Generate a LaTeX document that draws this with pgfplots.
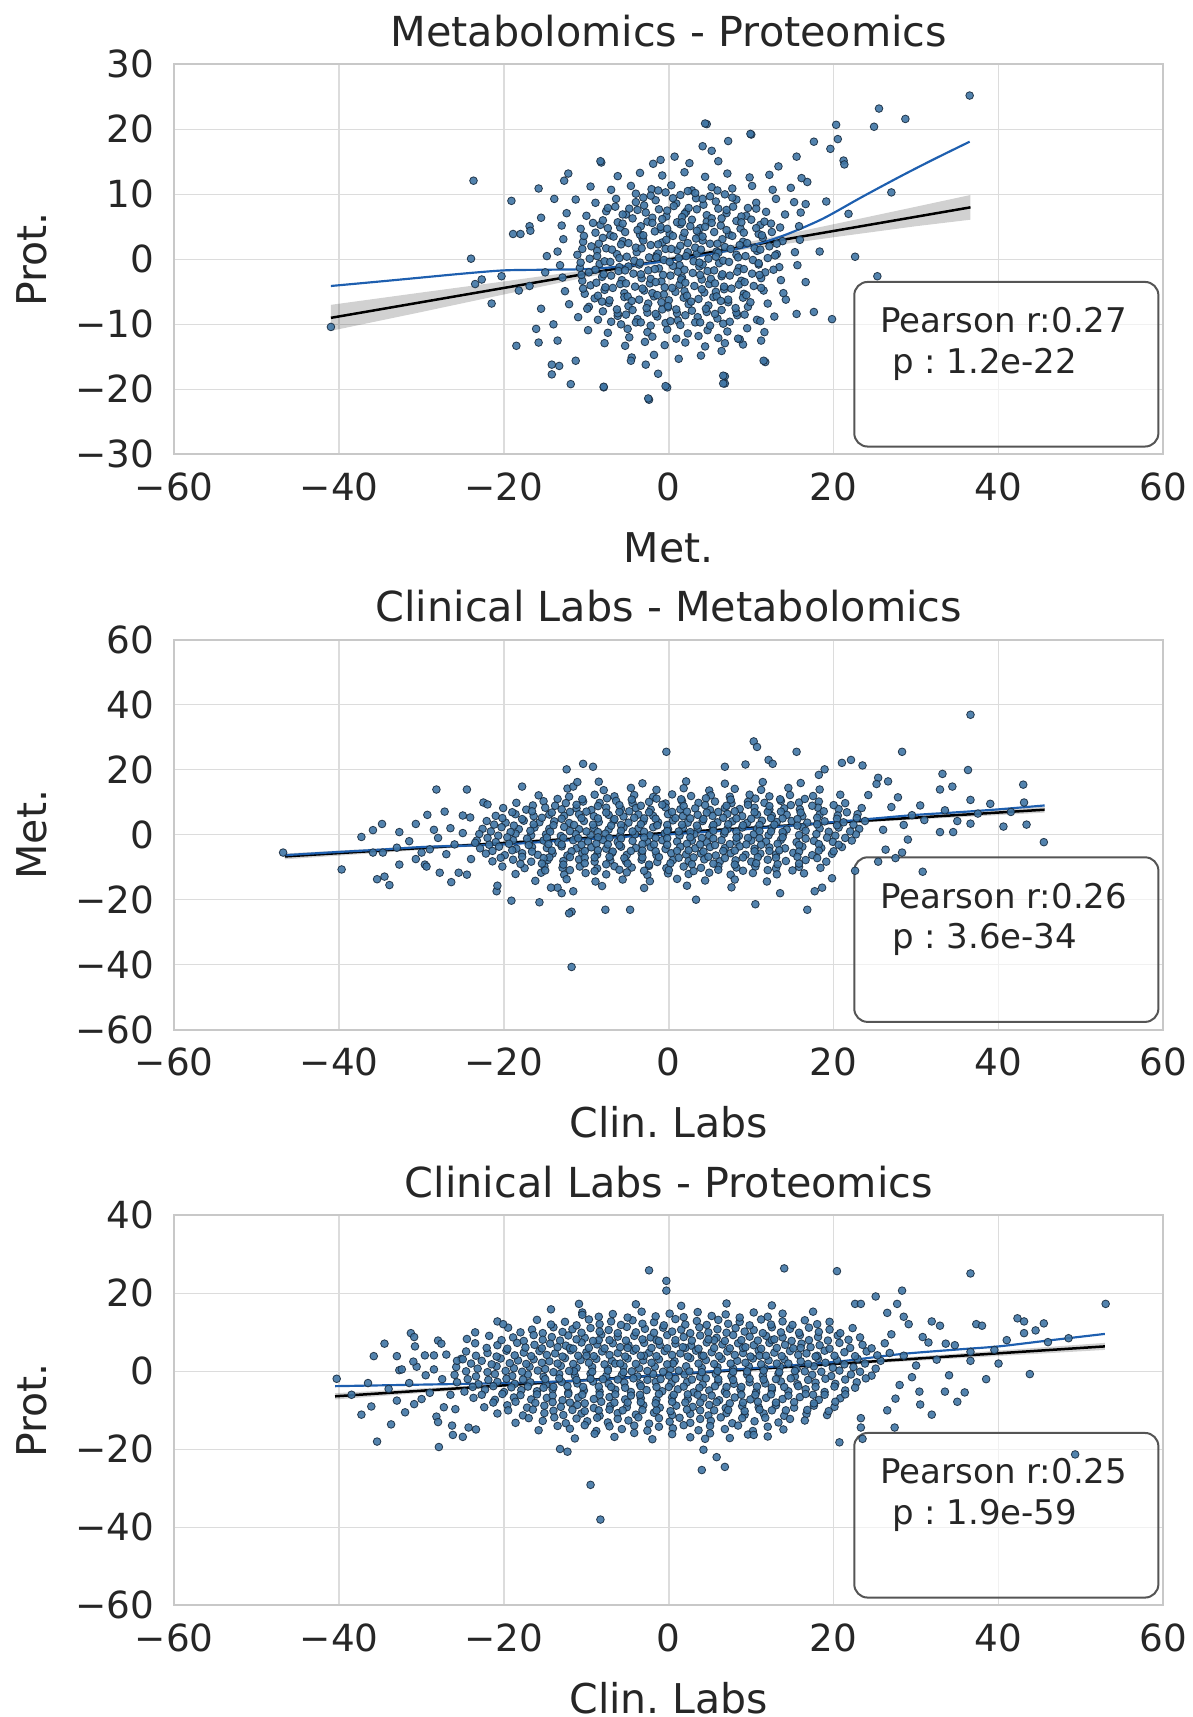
\documentclass[border=0pt]{standalone}
\usepackage{pgfplots}
\pgfplotsset{compat=1.18}
\usepackage{fontspec}
\setmainfont{DejaVu Sans}
\definecolor{txt}{HTML}{262626}
\definecolor{gridc}{HTML}{DCDCDC}
\definecolor{framec}{HTML}{C8C8C8}
\definecolor{ptfill}{RGB}{64,118,165}
\definecolor{ptedge}{RGB}{25,45,65}
\definecolor{lowess}{RGB}{30,95,175}
\definecolor{boxc}{HTML}{555555}
\pgfplotsset{
  panel/.style={
    scale only axis, width=296.7pt, height=117pt,
    xmin=-60, xmax=60, xtick={-60,-40,...,60},
    xticklabels={−60,−40,−20,0,20,40,60},
    grid=major, major grid style={draw=gridc, line width=0.45pt},
    axis line style={draw=framec, line width=0.6pt},
    major tick length=0pt,
    tick style={draw=none},
    xticklabel style={font=\fontsize{11.2}{13}\selectfont, text=txt, anchor=base, inner sep=0pt, yshift=-13.8pt},
    yticklabel style={font=\fontsize{11.2}{13}\selectfont, text=txt, anchor=east, inner sep=0pt, xshift=-5.8pt},
    xlabel style={font=\fontsize{12.3}{14}\selectfont, text=txt, at={(axis description cs:0.5,0)}, anchor=base, inner sep=0pt, yshift=-32.4pt},
    ylabel style={font=\fontsize{12.3}{14}\selectfont, text=txt, at={(axis description cs:-0.1443,0.5)}, anchor=center, inner sep=0pt},
    title style={font=\fontsize{12.4}{14}\selectfont, text=txt, at={(axis description cs:0.5,1)}, anchor=base, inner sep=0pt, yshift=-0.5pt},
  },
  pts/.style={only marks, mark=*, mark size=1.15pt, opacity=0.9,
    mark options={fill=ptfill, draw=ptedge, line width=0.25pt}},
  ci/.style={draw=none, fill=black, fill opacity=0.18},
  reg/.style={black, line width=0.75pt, no marks},
  low/.style={lowess, line width=0.65pt, no marks, smooth, tension=0.5},
}
\newcommand{\statbox}[2]{%
  \draw[rounded corners=4pt, draw=boxc, line width=0.6pt, fill=white, fill opacity=0.6]
    (rel axis cs:0.6875,0.02) rectangle (rel axis cs:0.995,0.442);
  \node[anchor=base west, inner sep=0pt, text=txt, font=\fontsize{10.2}{12}\selectfont] at (rel axis cs:0.7135,0.312) {Pearson r:#1};
  \node[anchor=base west, inner sep=0pt, text=txt, font=\fontsize{10.2}{12}\selectfont] at (rel axis cs:0.725,0.208) {p : #2};
}
\begin{document}
\frenchspacing
\begin{tikzpicture}
\path[use as bounding box] (-52.3pt,19.3pt) rectangle (305.6pt,-495.8pt);
% ---------------- Panel 1 ----------------
\begin{axis}[panel, at={(0,0)}, anchor=north west,
  ymin=-30, ymax=30, ytick={-30,-20,...,30}, yticklabels={−30,−20,−10,0,10,20,30},
  title={Metabolomics - Proteomics}, xlabel={Met.}, ylabel={Prot.}]
\addplot[pts] coordinates {
(-1.0,15.3)(2.5,14.8)(6.0,15.1)
(-6.2,12.8)(-3.5,13.3)(-0.8,12.9)(1.9,13.4)(4.4,12.7)(7.1,13.2)(9.8,12.6)(12.2,13.0)
(-9.5,11.2)(-7.0,10.7)(-4.6,11.3)(-2.1,10.8)(0.3,11.4)(2.8,10.6)(5.2,11.1)(7.7,10.9)(10.1,11.3)(12.6,10.7)(14.8,11.0)
(-11.3,9.2)(-8.9,8.7)(-6.4,9.3)(-4.0,8.8)(-1.6,9.1)(0.9,8.6)(3.3,9.4)(5.7,8.9)(8.2,9.2)(10.6,8.7)(13.0,9.3)(15.2,8.8)
(-12.4,7.1)(-10.0,6.7)(-7.6,7.4)(-5.2,6.9)(-2.8,7.2)(-0.3,6.6)(2.1,7.3)(4.6,6.8)(7.0,7.1)(9.4,6.7)(11.8,7.3)(14.1,6.9)(16.0,7.2)
(-13.0,5.2)(-10.7,4.7)(-8.3,5.3)(-5.9,4.9)(-3.4,5.1)(-1.0,4.6)(1.4,5.4)(3.8,4.8)(6.3,5.2)(8.7,4.7)(11.1,5.3)(13.5,4.9)(15.8,5.1)
(-12.8,3.1)(-10.4,2.7)(-8.0,3.3)(-5.6,2.8)(-3.2,3.2)(-0.8,2.6)(1.7,3.4)(4.1,2.9)(6.5,3.1)(9.0,2.7)(11.4,3.3)(13.8,2.8)(15.9,3.0)
(-13.5,1.2)(-11.1,0.7)(-8.7,1.3)(-6.3,0.8)(-3.9,1.1)(-1.5,0.6)(1.0,1.4)(3.4,0.9)(5.8,1.2)(8.2,0.7)(10.7,1.3)(13.1,0.8)(15.3,1.1)
(-13.2,-0.9)(-10.8,-1.3)(-8.4,-0.7)(-6.0,-1.2)(-3.6,-0.8)(-1.2,-1.4)(1.3,-0.9)(3.7,-1.1)(6.1,-0.6)(8.5,-1.3)(10.9,-0.8)(13.4,-1.2)(15.6,-0.9)
(-12.9,-2.8)(-10.5,-3.3)(-8.1,-2.7)(-5.7,-3.2)(-3.3,-2.9)(-0.9,-3.4)(1.6,-2.8)(4.0,-3.1)(6.4,-2.6)(8.8,-3.3)(11.2,-2.9)(13.6,-3.2)
(-12.6,-4.9)(-10.2,-5.3)(-7.8,-4.7)(-5.4,-5.2)(-3.0,-4.8)(-0.6,-5.4)(1.9,-4.9)(4.3,-5.1)(6.7,-4.6)(9.1,-5.3)(11.5,-4.8)(13.9,-5.2)
(-12.1,-6.9)(-9.7,-7.3)(-7.3,-6.7)(-4.9,-7.2)(-2.5,-6.8)(-0.1,-7.4)(2.4,-6.9)(4.8,-7.1)(7.2,-6.6)(9.6,-7.3)(12.0,-6.8)
(-11.0,-8.9)(-8.6,-9.3)(-6.2,-8.7)(-3.8,-9.2)(-1.4,-8.8)(1.1,-9.4)(3.5,-8.9)(5.9,-9.1)(8.3,-8.6)(10.7,-9.3)(12.8,-8.8)
(-9.8,-10.9)(-7.4,-11.3)(-5.0,-10.7)(-2.6,-11.2)(-0.2,-10.8)(2.3,-11.4)(4.7,-10.9)(7.1,-11.1)(9.5,-10.6)(11.6,-11.2)
(-7.8,-12.9)(-5.3,-13.3)(-2.9,-12.7)(-0.5,-13.2)(2.0,-12.8)(4.4,-13.4)(6.8,-12.9)(9.0,-13.1)
(-4.5,-15.1)(-1.8,-14.7)(1.2,-15.3)(3.9,-14.8)
(-4.0,10.1)(-2.2,9.8)(-0.4,10.3)(1.4,9.9)(3.2,10.2)(5.0,9.7)(6.8,10.0)
(-6.5,8.1)(-4.8,7.8)(-3.0,8.3)(-1.2,7.7)(0.6,8.2)(2.4,7.9)(4.2,8.4)(6.0,7.8)(7.8,8.1)(9.6,7.9)
(-8.0,6.0)(-6.2,5.7)(-4.4,6.3)(-2.6,5.8)(-0.8,6.2)(1.0,5.7)(2.8,6.1)(4.6,5.8)(6.4,6.3)(8.2,5.9)(10.0,6.1)(11.6,5.8)
(-8.9,4.1)(-7.1,3.7)(-5.3,4.2)(-3.5,3.8)(-1.7,4.3)(0.1,3.9)(1.9,4.1)(3.7,3.7)(5.5,4.2)(7.3,3.8)(9.1,4.1)(10.9,3.9)(12.5,4.2)
(-9.4,2.0)(-7.6,1.7)(-5.8,2.3)(-4.0,1.8)(-2.2,2.2)(-0.4,1.6)(1.4,2.1)(3.2,1.8)(5.0,2.4)(6.8,1.9)(8.6,2.2)(10.4,1.7)(12.2,2.0)
(-9.6,0.1)(-7.8,-0.3)(-6.0,0.2)(-4.2,-0.2)(-2.4,0.3)(-0.6,-0.1)(1.2,0.2)(3.0,-0.3)(4.8,0.1)(6.6,-0.2)(8.4,0.3)(10.2,-0.1)(12.0,0.2)
(-9.7,-2.0)(-7.9,-2.3)(-6.1,-1.8)(-4.3,-2.2)(-2.5,-1.7)(-0.7,-2.4)(1.1,-1.9)(2.9,-2.1)(4.7,-1.8)(6.5,-2.3)(8.3,-1.9)(10.1,-2.2)(11.7,-2.0)
(-9.5,-4.0)(-7.7,-4.3)(-5.9,-3.8)(-4.1,-4.2)(-2.3,-3.7)(-0.5,-4.3)(1.3,-3.9)(3.1,-4.1)(4.9,-3.8)(6.7,-4.2)(8.5,-3.9)(10.3,-4.1)
(-9.0,-6.0)(-7.2,-6.3)(-5.4,-5.8)(-3.6,-6.2)(-1.8,-5.7)(0.0,-6.3)(1.8,-5.9)(3.6,-6.1)(5.4,-5.8)(7.2,-6.2)(9.0,-5.9)
(-8.0,-8.0)(-6.2,-8.3)(-4.4,-7.8)(-2.6,-8.2)(-0.8,-7.7)(1.0,-8.3)(2.8,-7.9)(4.6,-8.1)(6.4,-7.8)(8.2,-8.2)
(-5.8,-10.0)(-4.0,-9.7)(-2.2,-10.2)(-0.4,-9.8)(1.4,-10.1)(3.2,-9.7)(5.0,-10.2)(6.6,-9.9)
(-1.3,0.9)(0.5,-1.0)(2.3,1.1)(4.1,-0.8)(-0.3,3.0)(1.5,-3.1)(3.3,3.2)(5.1,-3.0)(-2.2,-3.0)(-3.1,2.9)
(2.6,5.1)(0.8,-5.0)(-1.0,5.0)(4.4,5.0)(6.0,1.0)(-4.9,-1.1)(-2.0,-5.2)(5.7,-5.0)(1.9,7.0)(-0.1,-7.2)
(-3.1,9.5)(-1.3,10.6)(0.5,9.4)(2.3,10.5)(4.1,9.3)(5.9,10.6)(7.7,9.5)
(-7.4,7.9)(-5.6,6.9)(-3.8,7.6)(-2.0,6.4)(-0.2,7.5)(1.6,6.5)(3.4,7.7)(5.2,6.3)(7.0,7.6)(8.8,6.6)(10.6,7.8)
(-9.2,5.6)(-7.4,4.8)(-5.6,5.5)(-3.8,4.5)(-2.0,5.6)(-0.2,4.7)(1.6,5.7)(3.4,4.4)(5.2,5.6)(7.0,4.5)(8.8,5.7)(10.6,4.8)(12.4,5.5)
(-10.3,3.6)(-8.5,2.4)(-6.7,3.5)(-4.9,2.5)(-3.1,3.7)(-1.3,2.3)(0.5,3.6)(2.3,2.5)(4.1,3.5)(5.9,2.4)(7.7,3.6)(9.5,2.5)(11.3,3.7)(13.1,2.4)
(-10.5,1.6)(-8.7,0.5)(-6.9,1.5)(-5.1,0.4)(-3.3,1.7)(-1.5,0.3)(0.3,1.6)(2.1,0.5)(3.9,1.5)(5.7,0.4)(7.5,1.6)(9.3,0.5)(11.1,1.5)(12.9,0.6)
(-10.7,-0.5)(-8.9,-1.6)(-7.1,-0.4)(-5.3,-1.7)(-3.5,-0.5)(-1.7,-1.5)(0.1,-0.4)(1.9,-1.6)(3.7,-0.5)(5.5,-1.7)(7.3,-0.4)(9.1,-1.5)(10.9,-0.6)(12.7,-1.6)
(-10.6,-2.4)(-8.8,-3.6)(-7.0,-2.5)(-5.2,-3.7)(-3.4,-2.3)(-1.6,-3.5)(0.2,-2.5)(2.0,-3.6)(3.8,-2.4)(5.6,-3.7)(7.4,-2.5)(9.2,-3.5)(11.0,-2.4)
(-10.4,-4.5)(-8.6,-5.6)(-6.8,-4.4)(-5.0,-5.7)(-3.2,-4.5)(-1.4,-5.5)(0.4,-4.4)(2.2,-5.6)(4.0,-4.6)(5.8,-5.7)(7.6,-4.5)(9.4,-5.5)(11.2,-4.4)
(-9.9,-7.6)(-8.1,-6.5)(-6.3,-7.7)(-4.5,-6.4)(-2.7,-7.5)(-0.9,-6.6)(0.9,-7.7)(2.7,-6.5)(4.5,-7.6)(6.3,-6.4)(8.1,-7.5)(9.9,-6.6)
(-7.0,-9.6)(-5.2,-8.5)(-3.4,-9.7)(-1.6,-8.4)(0.2,-9.5)(2.0,-8.6)(3.8,-9.7)(5.6,-8.4)(7.4,-9.6)(9.2,-8.5)
(-4.8,-12.0)(-2.0,-11.9)(0.9,-12.2)(3.6,-11.8)(6.0,-12.1)
(36.5,25.2)(25.5,23.2)(28.7,21.6)(24.9,20.4)(20.3,20.7)(20.5,18.5)(19.6,17.0)(17.6,18.1)(21.2,15.2)(21.3,14.6)
(15.5,15.8)(13.3,14.3)(10.0,19.2)(4.6,20.8)(27.0,10.3)(21.8,7.0)(19.1,8.9)(16.6,8.5)(16.8,11.9)(16.1,12.5)
(18.3,1.2)(22.6,0.4)(25.3,-2.6)(16.6,-3.5)(15.5,-8.4)(17.6,-8.1)(19.8,-9.2)(11.7,-15.8)(8.6,-12.3)(6.8,-18.0)
(6.8,-19.1)(-0.2,-19.7)(-2.4,-21.6)(-7.9,-19.7)(-1.3,-17.6)(11.2,-12.5)(14.2,-6.2)(-8.2,14.9)(0.7,15.8)(-1.9,14.7)
(-23.7,12.1)(-24.0,0.1)(-23.5,-3.8)(-22.7,-3.1)(-21.5,-6.8)(-20.3,-2.6)(-19.1,9.0)(-18.9,3.9)(-18.0,3.9)(-16.9,5.1)
(-16.8,4.4)(-15.8,10.9)(-15.5,6.4)(-15.5,-7.6)(-16.1,-10.7)(-15.8,-12.8)(-18.5,-13.3)(-14.2,-16.2)(-13.3,-16.4)(-14.2,-17.7)
(-11.9,-19.2)(-11.3,-15.6)(-13.9,9.3)(-12.7,12.1)(-12.2,13.2)(-8.3,15.1)(-7.9,-19.6)(-2.5,-21.4)(-0.4,-19.5)(-2.8,-16.2)
(-4.6,-15.6)(4.4,20.9)(7.2,18.2)(9.9,19.3)(4.1,17.4)(5.2,16.7)(6.6,-19.1)(6.6,-17.9)(11.5,-15.6)(11.1,-9.5)
(8.4,-12.2)(6.4,-14.1)(-41.0,-10.4)(-18.2,-4.8)(-16.9,-4.1)(-14.0,-10.0)(-13.5,-12.5)(-14.8,0.5)(-15.0,-2.0)
};
\addplot[ci] coordinates {(-41,-7.0)(-30,-5.1)(-20,-3.4)(-10,-1.65)(0,0.35)(10,2.75)(20,5.4)(30,8.1)(36.6,9.9)
 (36.6,6.1)(30,5.1)(20,3.4)(10,1.65)(0,-0.35)(-10,-2.75)(-20,-5.4)(-30,-8.1)(-41,-11.0)} -- cycle;
\addplot[reg] coordinates {(-41,-9.0)(36.6,8.0)};
\addplot[low] coordinates {(-41,-4.1)(-35,-3.4)(-30,-2.8)(-25,-2.2)(-20,-1.7)(-15,-1.6)(-10,-1.5)(-5,-1.0)(0,-0.2)(5,0.8)(10,2.1)(14,3.7)(18.6,6.2)(23.3,9.5)(28,12.7)(32,15.3)(36.5,18.1)};
\statbox{0.27}{1.2e-22}
\end{axis}
% ---------------- Panel 2 ----------------
\begin{axis}[panel, at={(0,-172.6pt)}, anchor=north west,
  ymin=-60, ymax=60, ytick={-60,-40,...,60}, yticklabels={−60,−40,−20,0,20,40,60},
  title={Clinical Labs - Metabolomics}, xlabel={Clin. Labs}, ylabel={Met.}]
\addplot[pts] coordinates {
(-8.5,16.3)(-3.2,15.8)(2.1,16.4)(6.8,15.7)(11.4,16.2)(16.0,15.9)
(-12.3,14.2)(-7.9,13.7)(-4.6,14.4)(-1.5,13.8)(1.8,14.3)(4.9,13.6)(8.0,14.1)(11.2,13.8)(14.5,14.4)(18.3,13.9)
(-15.8,12.1)(-12.1,11.7)(-9.0,12.3)(-6.6,11.8)(-4.2,12.2)(-1.9,11.6)(0.4,12.4)(2.7,11.9)(5.1,12.1)(7.4,11.7)(9.8,12.3)(12.2,11.8)(14.7,12.2)(17.5,11.9)(20.8,12.3)
(-18.5,9.8)(-15.2,10.3)(-12.5,9.7)(-10.4,10.2)(-8.4,9.8)(-6.4,10.4)(-4.4,9.7)(-2.4,10.1)(-0.4,9.6)(1.6,10.3)(3.6,9.8)(5.6,10.2)(7.6,9.7)(9.6,10.1)(11.6,9.8)(13.6,10.4)(15.8,9.9)(18.2,10.2)(21.4,9.7)
(-20.1,8.2)(-17.3,7.7)(-15.0,8.3)(-13.0,7.8)(-11.2,8.1)(-9.4,7.6)(-7.6,8.3)(-5.8,7.9)(-4.0,8.2)(-2.2,7.7)(-0.4,8.4)(1.4,7.8)(3.2,8.1)(5.0,7.6)(6.8,8.2)(8.6,7.9)(10.4,8.3)(12.2,7.7)(14.0,8.1)(15.9,7.8)(18.1,8.3)(20.6,7.9)(23.4,8.2)
(-21.0,5.8)(-18.6,6.3)(-16.4,5.7)(-14.5,6.2)(-12.7,5.8)(-10.9,6.3)(-9.1,5.7)(-7.3,6.1)(-5.5,5.6)(-3.7,6.2)(-1.9,5.8)(-0.1,6.3)(1.7,5.7)(3.5,6.1)(5.3,5.8)(7.1,6.4)(8.9,5.7)(10.7,6.2)(12.5,5.8)(14.3,6.1)(16.2,5.7)(18.3,6.2)(20.5,5.9)(22.9,6.3)
(-22.1,4.2)(-19.8,3.7)(-17.6,4.3)(-15.7,3.8)(-13.9,4.1)(-12.1,3.6)(-10.3,4.2)(-8.5,3.9)(-6.7,4.3)(-4.9,3.7)(-3.1,4.1)(-1.3,3.8)(0.5,4.4)(2.3,3.7)(4.1,4.2)(5.9,3.8)(7.7,4.1)(9.5,3.6)(11.3,4.3)(13.1,3.9)(14.9,4.2)(16.8,3.7)(18.9,4.1)(21.2,3.8)(23.8,4.2)
(-22.6,1.8)(-20.3,2.3)(-18.2,1.7)(-16.3,2.2)(-14.5,1.8)(-12.7,2.4)(-10.9,1.7)(-9.1,2.1)(-7.3,1.6)(-5.5,2.2)(-3.7,1.9)(-1.9,2.3)(-0.1,1.7)(1.7,2.1)(3.5,1.8)(5.3,2.4)(7.1,1.7)(8.9,2.2)(10.7,1.8)(12.5,2.1)(14.3,1.6)(16.2,2.3)(18.3,1.9)(20.6,2.2)(23.1,1.8)
(-23.0,0.2)(-20.7,-0.3)(-18.6,0.3)(-16.7,-0.2)(-14.9,0.1)(-13.1,-0.4)(-11.3,0.2)(-9.5,-0.1)(-7.7,0.3)(-5.9,-0.3)(-4.1,0.1)(-2.3,-0.2)(-0.5,0.4)(1.3,-0.3)(3.1,0.2)(4.9,-0.1)(6.7,0.3)(8.5,-0.4)(10.3,0.1)(12.1,-0.2)(13.9,0.3)(15.8,-0.1)(17.9,0.2)(20.2,-0.3)(22.7,0.1)
(-23.3,-1.8)(-21.0,-2.3)(-18.9,-1.7)(-17.0,-2.2)(-15.2,-1.8)(-13.4,-2.4)(-11.6,-1.7)(-9.8,-2.1)(-8.0,-1.6)(-6.2,-2.2)(-4.4,-1.9)(-2.6,-2.3)(-0.8,-1.7)(1.0,-2.1)(2.8,-1.8)(4.6,-2.4)(6.4,-1.7)(8.2,-2.2)(10.0,-1.8)(11.8,-2.1)(13.6,-1.6)(15.5,-2.3)(17.6,-1.9)(19.9,-2.2)(22.2,-1.8)
(-22.9,-4.2)(-20.6,-3.7)(-18.5,-4.3)(-16.6,-3.8)(-14.8,-4.1)(-13.0,-3.6)(-11.2,-4.2)(-9.4,-3.9)(-7.6,-4.3)(-5.8,-3.7)(-4.0,-4.1)(-2.2,-3.8)(-0.4,-4.4)(1.4,-3.7)(3.2,-4.2)(5.0,-3.8)(6.8,-4.1)(8.6,-3.6)(10.4,-4.3)(12.2,-3.9)(14.1,-4.2)(16.2,-3.7)(18.5,-4.1)(21.0,-3.8)
(-22.2,-5.8)(-19.9,-6.3)(-17.8,-5.7)(-15.9,-6.2)(-14.1,-5.8)(-12.3,-6.4)(-10.5,-5.7)(-8.7,-6.1)(-6.9,-5.6)(-5.1,-6.2)(-3.3,-5.8)(-1.5,-6.3)(0.3,-5.7)(2.1,-6.1)(3.9,-5.8)(5.7,-6.4)(7.5,-5.7)(9.3,-6.2)(11.1,-5.8)(13.0,-6.1)(15.1,-5.6)(17.4,-6.3)(19.8,-5.9)
(-21.4,-8.2)(-18.9,-7.7)(-16.7,-8.3)(-14.7,-7.8)(-12.8,-8.1)(-10.9,-7.6)(-9.0,-8.3)(-7.1,-7.9)(-5.2,-8.2)(-3.3,-7.7)(-1.4,-8.4)(0.5,-7.8)(2.4,-8.1)(4.3,-7.6)(6.2,-8.2)(8.1,-7.9)(10.0,-8.3)(12.0,-7.7)(14.2,-8.1)(16.6,-7.8)(19.1,-8.3)
(-20.2,-9.8)(-17.5,-10.3)(-15.1,-9.7)(-12.9,-10.2)(-10.8,-9.8)(-8.7,-10.4)(-6.6,-9.7)(-4.5,-10.1)(-2.4,-9.6)(-0.3,-10.3)(1.8,-9.8)(3.9,-10.2)(6.0,-9.7)(8.2,-10.1)(10.5,-9.8)(13.0,-10.4)(15.8,-9.9)(18.4,-10.2)
(-18.6,-12.1)(-15.5,-11.7)(-12.7,-12.3)(-10.1,-11.8)(-7.6,-12.2)(-5.1,-11.6)(-2.6,-12.4)(-0.1,-11.9)(2.4,-12.1)(4.9,-11.7)(7.5,-12.3)(10.2,-11.8)(13.1,-12.2)(16.4,-11.9)
(-16.2,-14.2)(-12.4,-13.7)(-8.9,-14.4)(-5.6,-13.8)(-2.3,-14.3)(1.0,-13.6)(4.4,-14.1)(8.0,-13.8)(11.9,-14.4)
(-13.5,-16.3)(-8.1,-15.8)(-3.0,-16.4)(2.2,-15.7)(7.6,-16.2)
(-12.8,-1.0)(-10.0,1.0)(-7.2,-1.0)(-4.4,1.0)(-1.6,-1.0)(1.2,1.0)(4.0,-1.0)(6.8,1.0)(9.6,-1.0)(12.4,1.0)
(-11.5,3.0)(-8.6,5.0)(-5.8,3.0)(-3.0,5.0)(-0.2,3.0)(2.6,5.0)(5.4,3.0)(8.2,5.0)(11.0,3.0)(13.8,5.0)
(-13.0,-3.0)(-10.2,-5.0)(-7.4,-3.0)(-4.6,-5.0)(-1.8,-3.0)(1.0,-5.0)(3.8,-3.0)(6.6,-5.0)(9.4,-3.0)(12.2,-5.0)
(-9.0,-7.0)(-6.0,7.0)(-3.2,-7.0)(0.4,7.0)(3.0,-7.0)(6.0,7.0)(9.0,-7.0)(-12.0,7.0)(12.0,7.0)(-14.5,-7.0)
(-13.5,11.0)(-10.5,10.9)(-7.5,11.2)(-4.5,10.8)(-1.5,11.1)(1.5,10.9)(4.5,11.2)(7.5,10.8)(10.5,11.1)(13.5,10.9)(16.5,11.0)
(-16.5,9.0)(-13.8,8.9)(-11.2,9.2)(-8.6,8.8)(-6.0,9.1)(-3.4,8.9)(-0.8,9.2)(1.8,8.8)(4.4,9.1)(7.0,8.9)(9.6,9.2)(12.2,8.8)(14.8,9.1)(17.4,8.9)(20.0,9.1)
(-19.0,6.9)(-16.6,7.2)(-14.2,6.8)(-10.0,7.1)(-7.6,6.8)(-4.8,7.2)(-2.4,6.9)(2.2,7.1)(4.6,6.8)(8.0,7.2)(10.4,6.9)(13.6,7.1)(16.0,6.8)(18.8,7.2)(21.6,6.9)
(-20.2,5.1)(-17.8,4.8)(-15.4,5.2)(-13.0,4.9)(-10.6,5.1)(-6.6,4.8)(-4.2,5.2)(-1.6,4.9)(0.8,5.1)(4.2,4.8)(6.6,5.2)(10.0,4.9)(12.4,5.1)(15.6,4.8)(18.0,5.2)(20.4,4.9)(22.8,5.1)
(-21.2,3.1)(-18.8,2.8)(-16.4,3.2)(-14.0,2.9)(-9.2,3.1)(-7.0,2.8)(-3.4,3.2)(-1.4,2.9)(1.6,3.1)(3.4,2.8)(7.2,3.2)(9.0,2.9)(12.8,3.1)(15.6,2.8)(18.0,3.2)(20.4,2.9)(22.4,3.1)
(-21.6,1.0)(-19.2,0.8)(-16.8,1.2)(-14.4,0.9)(-12.0,1.1)(-8.6,0.8)(-5.8,1.2)(-3.0,0.9)(-0.2,1.1)(2.6,0.8)(5.4,1.2)(8.2,0.9)(11.0,1.1)(13.8,0.8)(16.6,1.2)(19.4,0.9)(22.0,1.0)
(-22.0,-1.0)(-19.6,-0.8)(-17.2,-1.2)(-14.8,-0.9)(-11.0,-1.1)(-8.6,-0.8)(-5.8,-1.2)(-3.0,-0.9)(-0.2,-1.1)(2.6,-0.8)(5.4,-1.2)(8.2,-0.9)(11.0,-1.1)(13.8,-0.8)(16.6,-1.2)(19.2,-0.9)(21.4,-1.0)
(-21.8,-3.1)(-19.4,-2.8)(-17.0,-3.2)(-14.6,-2.9)(-10.6,-3.1)(-8.8,-2.8)(-6.0,-3.2)(-3.2,-2.9)(-0.2,-3.1)(2.2,-2.8)(5.6,-3.2)(7.4,-2.9)(11.2,-3.1)(13.2,-2.8)(15.8,-3.2)(18.2,-2.9)(20.6,-3.1)
(-21.4,-5.0)(-19.0,-4.8)(-16.6,-5.2)(-14.2,-4.9)(-11.8,-5.1)(-8.6,-4.8)(-6.8,-5.2)(-3.2,-4.9)(-1.6,-5.1)(2.4,-4.8)(4.2,-5.2)(8.0,-4.9)(10.4,-5.1)(13.4,-4.8)(15.8,-5.2)(18.2,-4.9)(20.0,-5.1)
(-20.4,-7.1)(-17.8,-6.8)(-15.2,-7.2)(-12.0,-6.9)(-10.2,-7.1)(-7.2,-6.8)(-5.4,-7.2)(-1.2,-6.9)(1.2,-7.1)(4.8,-6.8)(6.8,-7.2)(10.8,-6.9)(13.0,-7.1)(15.6,-6.8)(18.0,-7.2)
(-18.0,-9.0)(-15.4,-8.9)(-12.8,-9.2)(-10.2,-8.8)(-7.6,-9.1)(-5.0,-8.9)(-2.4,-9.2)(0.2,-8.8)(2.8,-9.1)(5.4,-8.9)(8.0,-9.2)(10.6,-8.8)(13.2,-9.1)(15.8,-8.9)
(-15.0,-11.0)(-12.0,-10.9)(-9.0,-11.2)(-6.0,-10.8)(-3.0,-11.1)(0.0,-10.9)(3.0,-11.2)(6.0,-10.8)(9.0,-11.1)(12.0,-10.9)(15.0,-11.0)
(36.6,36.9)(28.3,25.5)(36.3,19.9)(33.2,18.7)(43.0,15.4)(43.1,9.9)(43.4,3.1)(45.5,-2.3)(40.6,2.5)(36.6,10.7)
(36.6,3.4)(34.4,14.8)(32.9,13.9)(32.9,0.8)(34.5,0.8)(35.0,4.2)(30.8,-11.4)(28.3,-5.5)(27.5,-7.2)(25.4,-8.3)
(26.3,-4.6)(22.6,-11.1)(19.8,-13.4)(18.6,-16.3)(17.7,-17.4)(16.8,-23.1)(23.5,21.3)(22.1,23.0)(21.0,22.1)(18.9,20.1)
(18.2,18.4)(15.5,25.5)(10.3,28.7)(10.7,27.0)(12.1,23.0)(12.6,21.8)(-0.3,25.5)(9.3,21.6)(6.8,20.9)(10.5,-21.4)
(3.3,-20.0)(-4.7,-23.1)(-7.7,-23.1)(13.5,-18.0)(25.4,17.5)(25.2,15.6)(26.6,16.4)(24.2,12.2)
(27.0,8.5)(28.5,3.0)(29.5,6.0)(30.5,9.0)(26.0,1.5)(27.8,11.5)(31.0,4.5)(29.0,-1.5)(33.5,7.5)(37.5,6.5)(39.0,9.5)(41.5,7.0)
(-11.8,-40.7)(-39.7,-10.7)(-37.3,-0.7)(-35.9,1.4)(-34.8,3.3)(-35.4,-13.7)(-34.5,-12.9)(-33.9,-15.5)(-32.7,0.8)(-32.7,-9.2)
(-30.7,3.3)(-30.7,-7.5)(-29.6,-9.2)(-29.4,-9.8)(-29.3,6.1)(-28.2,13.9)(-27.8,-11.7)(-26.4,-14.6)(-27.2,7.1)(-24.5,13.9)
(-25.0,5.9)(-24.1,5.3)(-22.5,9.9)(-22.0,9.3)(-25.5,-11.7)(-24.5,-12.3)(-20.9,-17.4)(-20.8,-15.7)(-19.1,-20.3)(-15.7,-20.8)
(-17.8,14.8)(-12.4,20.1)(-10.4,21.8)(-9.2,20.9)(-11.8,-23.7)(-12.1,-24.2)(-11.6,14.8)(-11.1,16.2)(-13.0,-18.0)(-11.6,-17.4)
(-14.3,-16.3)(-46.8,-5.5)
(-31.5,-2.0)(-29.0,-4.5)(-28.0,-1.0)(-27.0,-6.0)(-26.0,-3.0)(-25.0,0.5)(-24.0,-7.5)(-23.5,-2.5)(-28.5,1.5)(-30.0,-5.5)
(-26.5,2.0)(-33.0,-4.0)(-35.9,-5.5)(-34.7,-5.5)
};
\addplot[ci] coordinates {(-46.6,-5.79)(-30,-3.5)(-15,-1.41)(0,0.83)(15,3.27)(30,5.86)(45.6,8.59)
 (45.6,6.79)(30,4.66)(15,2.57)(0,0.33)(-15,-2.11)(-30,-4.7)(-46.6,-7.59)} -- cycle;
\addplot[reg] coordinates {(-46.6,-6.69)(45.6,7.69)};
\addplot[low] coordinates {(-46.6,-6.3)(-40,-5.3)(-35,-4.6)(-30,-3.8)(-25,-3.4)(-20,-3.0)(-15,-2.2)(-10,-1.4)(-5,-0.6)(0,0.1)(5,0.9)(10,1.8)(15,2.8)(20,3.9)(25,5.0)(30,6.1)(35,6.9)(40,7.8)(45.6,9.0)};
\statbox{0.26}{3.6e-34}
\end{axis}
% ---------------- Panel 3 ----------------
\begin{axis}[panel, at={(0,-345.3pt)}, anchor=north west,
  ymin=-60, ymax=40, ytick={-60,-40,...,40}, yticklabels={−60,−40,−20,0,20,40},
  title={Clinical Labs - Proteomics}, xlabel={Clin. Labs}, ylabel={Prot.}]
\addplot[pts] coordinates {
(-4.0,17.2)(1.5,16.8)(7.0,17.4)(12.5,16.9)
(-10.5,15.1)(-6.8,14.7)(-3.3,15.3)(0.1,14.8)(3.5,15.2)(6.9,14.6)(10.3,15.1)(13.8,14.8)(17.5,15.3)
(-16.0,13.2)(-12.6,12.7)(-9.7,13.3)(-7.0,12.8)(-4.4,13.1)(-1.8,12.6)(0.8,13.4)(3.4,12.9)(6.0,13.2)(8.6,12.7)(11.2,13.3)(13.8,12.8)(16.5,13.1)(19.5,12.7)
(-19.5,11.2)(-16.6,10.7)(-14.0,11.3)(-11.7,10.8)(-9.5,11.1)(-7.3,10.6)(-5.1,11.4)(-2.9,10.9)(-0.7,11.2)(1.5,10.7)(3.7,11.3)(5.9,10.8)(8.1,11.1)(10.3,10.6)(12.5,11.3)(14.7,10.9)(17.0,11.2)(19.5,10.7)(22.3,11.1)
(-21.8,9.1)(-18.9,8.7)(-16.4,9.3)(-14.2,8.8)(-12.2,9.2)(-10.2,8.6)(-8.2,9.4)(-6.2,8.9)(-4.2,9.1)(-2.2,8.7)(-0.2,9.3)(1.8,8.8)(3.8,9.2)(5.8,8.6)(7.8,9.3)(9.8,8.9)(11.8,9.1)(13.8,8.7)(15.9,9.3)(18.1,8.8)(20.5,9.2)(23.2,8.7)
(-23.5,7.2)(-20.8,6.7)(-18.4,7.3)(-16.3,6.8)(-14.4,7.1)(-12.5,6.6)(-10.6,7.4)(-8.7,6.9)(-6.8,7.2)(-4.9,6.7)(-3.0,7.3)(-1.1,6.8)(0.8,7.1)(2.7,6.6)(4.6,7.4)(6.5,6.9)(8.4,7.2)(10.3,6.7)(12.2,7.3)(14.1,6.8)(16.1,7.1)(18.3,6.7)(20.7,7.3)(23.5,6.8)(26.2,7.2)
(-24.6,5.1)(-22.0,4.7)(-19.7,5.3)(-17.6,4.8)(-15.7,5.2)(-13.8,4.6)(-11.9,5.4)(-10.0,4.9)(-8.1,5.1)(-6.2,4.7)(-4.3,5.3)(-2.4,4.8)(-0.5,5.2)(1.4,4.6)(3.3,5.3)(5.2,4.9)(7.1,5.1)(9.0,4.7)(10.9,5.3)(12.8,4.8)(14.7,5.2)(16.7,4.6)(18.9,5.3)(21.3,4.9)(24.0,5.1)(26.8,4.7)
(-25.2,3.2)(-22.7,2.7)(-20.4,3.3)(-18.3,2.8)(-16.4,3.1)(-14.5,2.6)(-12.6,3.4)(-10.7,2.9)(-8.8,3.2)(-6.9,2.7)(-5.0,3.3)(-3.1,2.8)(-1.2,3.1)(0.7,2.6)(2.6,3.4)(4.5,2.9)(6.4,3.2)(8.3,2.7)(10.2,3.3)(12.1,2.8)(14.0,3.1)(16.0,2.6)(18.1,3.3)(20.4,2.9)(22.9,3.2)(25.7,2.7)
(-25.8,1.1)(-23.2,0.7)(-20.9,1.3)(-18.8,0.8)(-16.9,1.2)(-15.0,0.6)(-13.1,1.4)(-11.2,0.9)(-9.3,1.1)(-7.4,0.7)(-5.5,1.3)(-3.6,0.8)(-1.7,1.2)(0.2,0.6)(2.1,1.3)(4.0,0.9)(5.9,1.1)(7.8,0.7)(9.7,1.3)(11.6,0.8)(13.5,1.2)(15.5,0.6)(17.6,1.3)(19.9,0.9)(22.4,1.1)(25.1,0.7)
(-26.0,-0.9)(-23.4,-1.3)(-21.1,-0.7)(-19.0,-1.2)(-17.1,-0.8)(-15.2,-1.4)(-13.3,-0.7)(-11.4,-1.1)(-9.5,-0.6)(-7.6,-1.2)(-5.7,-0.9)(-3.8,-1.3)(-1.9,-0.7)(0.0,-1.1)(1.9,-0.8)(3.8,-1.4)(5.7,-0.7)(7.6,-1.2)(9.5,-0.8)(11.4,-1.1)(13.3,-0.6)(15.3,-1.3)(17.4,-0.9)(19.7,-1.2)(22.1,-0.8)(24.6,-1.1)
(-25.7,-2.8)(-23.1,-3.3)(-20.8,-2.7)(-18.7,-3.2)(-16.8,-2.8)(-14.9,-3.4)(-13.0,-2.7)(-11.1,-3.1)(-9.2,-2.6)(-7.3,-3.2)(-5.4,-2.9)(-3.5,-3.3)(-1.6,-2.7)(0.3,-3.1)(2.2,-2.8)(4.1,-3.4)(6.0,-2.7)(7.9,-3.2)(9.8,-2.8)(11.7,-3.1)(13.6,-2.6)(15.6,-3.3)(17.8,-2.9)(20.2,-3.2)(22.8,-2.8)
(-24.8,-5.2)(-22.3,-4.7)(-20.0,-5.3)(-17.9,-4.8)(-16.0,-5.1)(-14.1,-4.6)(-12.2,-5.4)(-10.3,-4.9)(-8.4,-5.2)(-6.5,-4.7)(-4.6,-5.3)(-2.7,-4.8)(-0.8,-5.1)(1.1,-4.6)(3.0,-5.4)(4.9,-4.9)(6.8,-5.2)(8.7,-4.7)(10.6,-5.3)(12.5,-4.8)(14.5,-5.1)(16.6,-4.6)(18.9,-5.3)(21.4,-4.9)
(-23.7,-6.8)(-21.1,-7.3)(-18.8,-6.7)(-16.7,-7.2)(-14.8,-6.8)(-12.9,-7.4)(-11.0,-6.7)(-9.1,-7.1)(-7.2,-6.6)(-5.3,-7.2)(-3.4,-6.9)(-1.5,-7.3)(0.4,-6.7)(2.3,-7.1)(4.2,-6.8)(6.1,-7.4)(8.0,-6.7)(9.9,-7.2)(11.8,-6.8)(13.8,-7.1)(15.9,-6.6)(18.2,-7.3)(20.8,-6.9)
(-22.4,-9.2)(-19.6,-8.7)(-17.2,-9.3)(-15.1,-8.8)(-13.1,-9.1)(-11.1,-8.6)(-9.1,-9.4)(-7.1,-8.9)(-5.1,-9.2)(-3.1,-8.7)(-1.1,-9.3)(0.9,-8.8)(2.9,-9.1)(4.9,-8.6)(6.9,-9.4)(8.9,-8.9)(10.9,-9.2)(13.0,-8.7)(15.2,-9.3)(17.6,-8.8)(20.1,-9.1)
(-20.8,-10.8)(-17.7,-11.3)(-15.1,-10.7)(-12.8,-11.2)(-10.6,-10.8)(-8.4,-11.4)(-6.2,-10.7)(-4.0,-11.1)(-1.8,-10.6)(0.4,-11.2)(2.6,-10.9)(4.8,-11.3)(7.0,-10.7)(9.2,-11.1)(11.5,-10.8)(14.0,-11.4)(16.7,-10.9)(19.2,-11.2)
(-18.6,-13.2)(-15.3,-12.7)(-12.5,-13.3)(-9.9,-12.8)(-7.4,-13.1)(-4.9,-12.6)(-2.4,-13.4)(0.1,-12.9)(2.6,-13.2)(5.1,-12.7)(7.7,-13.3)(10.4,-12.8)(13.3,-13.1)(16.5,-12.6)
(-15.8,-15.1)(-12.0,-14.7)(-8.8,-15.3)(-5.7,-14.8)(-2.6,-15.2)(0.5,-14.6)(3.6,-15.1)(6.8,-14.8)(10.2,-15.3)(13.9,-14.9)
(-11.4,-17.2)(-6.6,-16.8)(-2.0,-17.4)(2.6,-16.9)(7.4,-17.1)(12.0,-16.7)
(-15.0,-2.0)(-11.5,0.0)(-8.0,-2.0)(-4.5,0.0)(-1.0,-2.0)(2.5,0.0)(6.0,-2.0)(9.5,0.0)(13.0,-2.0)(16.5,0.0)
(-13.5,2.0)(-10.0,4.0)(-6.5,2.0)(-3.0,4.0)(0.5,2.0)(4.0,4.0)(7.5,2.0)(11.0,4.0)(14.5,2.0)(18.0,4.0)
(-14.0,-4.0)(-10.5,-6.0)(-7.0,-4.0)(-3.5,-6.0)(0.0,-4.0)(3.5,-6.0)(7.0,-4.0)(10.5,-6.0)(14.0,-4.0)(17.5,-6.0)
(-12.0,6.0)(-8.5,8.0)(-5.0,6.0)(-1.5,8.0)(2.0,6.0)(5.5,8.0)(9.0,6.0)(12.5,8.0)(16.0,6.0)
(-12.0,-8.0)(-8.5,-10.0)(-5.0,-8.0)(-1.5,-10.0)(2.0,-8.0)(5.5,-10.0)(9.0,-8.0)(12.5,-10.0)
(-8.5,14.0)(-5.0,13.8)(-1.6,14.1)(1.8,13.9)(5.2,14.2)(8.6,13.8)(12.0,14.0)
(-14.3,12.0)(-11.2,11.8)(-8.4,12.1)(-5.8,11.9)(-3.2,12.2)(-0.6,11.8)(2.0,12.0)(4.6,11.9)(7.2,12.2)(9.8,11.8)(12.4,12.0)(15.0,11.9)(18.0,12.1)
(-18.0,10.0)(-15.3,9.8)(-12.9,10.1)(-10.6,9.9)(-8.4,10.2)(-6.2,9.8)(-4.0,10.0)(-1.8,9.9)(0.4,10.2)(2.6,9.8)(4.8,10.0)(7.0,9.9)(9.2,10.2)(11.4,9.8)(13.6,10.0)(15.8,9.9)(18.2,10.1)(20.8,9.8)
(-20.3,8.0)(-17.6,7.8)(-15.3,8.1)(-13.2,7.9)(-11.2,8.2)(-9.2,7.8)(-7.2,8.0)(-5.2,7.9)(-3.2,8.2)(-1.2,7.8)(0.8,8.0)(2.8,7.9)(4.8,8.2)(6.8,7.8)(8.8,8.0)(10.8,7.9)(12.8,8.2)(14.9,7.8)(17.0,8.0)(19.3,7.9)(21.8,8.1)
(-22.1,6.0)(-19.6,5.8)(-17.4,6.1)(-15.4,5.9)(-13.5,6.2)(-11.6,5.8)(-9.7,6.0)(-7.8,5.9)(-5.9,6.2)(-4.0,5.8)(-2.1,6.0)(-0.2,5.9)(1.7,6.2)(3.6,5.8)(5.5,6.0)(7.4,5.9)(9.3,6.2)(11.2,5.8)(13.1,6.0)(15.1,5.9)(17.2,6.2)(19.5,5.8)(22.0,6.0)(24.6,5.9)
(-23.4,4.0)(-20.9,3.8)(-18.7,4.1)(-16.7,3.9)(-14.8,4.2)(-12.9,3.8)(-11.0,4.0)(-9.1,3.9)(-7.2,4.2)(-5.3,3.8)(-3.4,4.0)(-1.5,3.9)(0.4,4.2)(2.3,3.8)(4.2,4.0)(6.1,3.9)(8.0,4.2)(9.9,3.8)(11.8,4.0)(13.7,3.9)(15.7,4.2)(17.8,3.8)(20.1,4.0)(22.6,3.9)(25.3,4.1)
(-24.0,2.0)(-21.5,1.8)(-19.3,2.1)(-17.3,1.9)(-15.4,2.2)(-11.6,1.9)(-9.7,2.2)(-7.8,1.8)(-5.9,2.0)(-4.0,1.9)(-2.1,2.2)(-0.2,1.8)(3.6,2.0)(5.5,1.9)(9.3,2.2)(11.2,1.8)(13.1,2.0)(16.9,1.9)(19.0,2.2)(21.3,1.8)(23.8,2.0)
(-24.6,0.0)(-22.0,-0.2)(-19.8,0.1)(-17.8,-0.1)(-15.9,0.2)(-14.0,-0.2)(-12.1,0.1)(-9.3,-0.1)(-7.4,0.2)(-5.5,-0.2)(-2.6,0.1)(-0.7,-0.1)(1.2,0.2)(4.0,-0.2)(5.9,0.1)(7.8,-0.1)(11.5,0.2)(13.4,-0.2)(15.3,0.1)(18.5,-0.1)(20.7,0.2)(23.2,-0.1)
(-24.4,-2.0)(-21.9,-2.2)(-19.7,-1.9)(-17.7,-2.1)(-13.3,-1.8)(-11.2,-2.2)(-9.5,-1.9)(-6.2,-2.1)(-4.3,-1.8)(-2.6,-2.2)(0.8,-1.9)(2.8,-2.1)(4.5,-1.8)(7.8,-2.2)(9.8,-1.9)(11.5,-2.1)(14.8,-1.8)(16.9,-2.2)(19.0,-1.9)(21.4,-2.1)(23.9,-1.8)
(-23.8,-4.0)(-21.3,-3.8)(-19.1,-4.1)(-17.1,-3.9)(-15.2,-4.2)(-12.3,-3.8)(-10.4,-4.0)(-8.5,-3.9)(-5.3,-4.2)(-3.4,-3.8)(-1.5,-4.0)(1.8,-3.9)(3.7,-4.2)(5.6,-3.8)(8.8,-4.0)(10.7,-3.9)(12.5,-4.2)(15.7,-3.8)(17.8,-4.0)(20.1,-3.9)(22.6,-4.2)
(-22.7,-6.0)(-20.2,-5.8)(-18.0,-6.1)(-16.0,-5.9)(-14.1,-6.2)(-12.2,-5.8)(-8.4,-6.0)(-6.5,-5.9)(-4.6,-6.2)(-1.2,-5.8)(0.6,-6.0)(2.3,-5.9)(5.2,-6.2)(7.0,-5.8)(8.8,-6.0)(12.4,-5.9)(14.5,-6.2)(16.6,-5.8)(18.9,-6.0)(21.4,-5.9)
(-21.3,-8.0)(-18.6,-7.8)(-16.2,-8.1)(-14.1,-7.9)(-10.2,-8.2)(-8.2,-7.8)(-6.6,-8.0)(-3.4,-7.9)(-1.6,-8.2)(0.4,-7.8)(3.8,-8.0)(5.8,-7.9)(7.4,-8.2)(10.8,-7.8)(13.0,-8.0)(15.2,-7.9)(17.6,-8.2)(20.2,-7.8)
(-19.5,-10.0)(-16.5,-9.8)(-14.0,-10.1)(-11.7,-9.9)(-10.2,-10.2)(-7.2,-9.8)(-5.6,-10.0)(-3.2,-9.9)(0.2,-10.2)(2.2,-9.8)(3.8,-10.0)(7.2,-9.9)(9.2,-10.2)(11.0,-9.8)(14.2,-10.0)(16.8,-9.9)(19.4,-10.2)
(-17.0,-12.0)(-13.9,-11.8)(-11.2,-12.1)(-8.7,-11.9)(-6.2,-12.2)(-3.7,-11.8)(-1.2,-12.0)(1.3,-11.9)(3.8,-12.2)(6.3,-11.8)(8.9,-12.0)(11.7,-11.9)(14.7,-12.2)
(-13.5,-14.0)(-10.2,-13.8)(-7.2,-14.1)(-4.2,-13.9)(-1.2,-14.2)(1.8,-13.8)(5.0,-14.0)(8.4,-13.9)(12.0,-14.2)
(-9.0,-16.0)(-4.2,-15.8)(0.4,-16.1)(5.0,-15.9)(9.6,-16.2)
(-40.3,-1.9)(-37.3,-11.1)(-36.1,-9.0)(-35.4,-18.0)(-35.8,3.9)(-34.5,7.1)(-33.7,-13.6)(-33.0,3.9)(-32.7,0.3)(-32.4,0.5)
(-31.3,9.8)(-30.8,6.4)(-30.9,8.8)(-30.6,1.2)(-30.9,-8.4)(-30.0,-7.1)(-29.6,4.1)(-28.5,4.1)(-27.9,-19.4)(-28.0,7.9)
(-27.6,7.1)(-28.2,-11.6)(-28.0,-13.0)(-27.0,4.3)(-26.3,-13.9)(-26.2,-16.3)(-25.0,-16.8)(-27.3,-9.2)(-25.9,-9.7)(-24.5,8.3)
(-23.5,10.0)(-25.7,2.7)(-25.0,3.1)(-24.3,-14.4)(-23.4,-14.9)(-20.8,12.8)(-20.1,12.1)(-14.3,15.9)(-10.9,17.3)(-10.5,14.5)
(-13.2,-19.9)(-12.3,-20.6)(-9.5,-29.1)(-8.3,-38.0)
(-34.0,-4.5)(-31.5,-3.0)(-29.0,-5.5)(-27.5,-2.0)(-29.5,-1.0)(-33.0,-7.5)(-36.5,-3.0)(-38.5,-6.0)(-32.0,-10.5)(-26.5,-6.0)(-28.5,0.5)(-31.0,2.5)
(53.0,17.3)(49.3,-21.3)(36.6,25.1)(28.3,20.7)(27.7,17.3)(25.1,19.2)(20.4,25.7)(14.0,26.4)(-2.4,25.9)(-0.3,23.2)
(-0.3,20.7)(42.3,13.6)(43.1,12.8)(45.5,12.3)(44.5,10.5)(43.1,9.8)(43.8,-0.7)(37.3,12.1)(38.0,11.7)(36.6,2.7)
(36.6,5.0)(35.9,-5.4)(35.0,-7.8)(33.5,-5.2)(31.9,-11.1)(30.4,-5.2)(33.6,7.1)(34.7,6.7)(31.9,12.8)(32.9,11.7)
(29.1,12.1)(27.4,-14.4)(23.5,-17.3)(20.7,-18.2)(23.3,-12.0)(23.3,-14.4)(4.0,-25.3)(6.8,-24.5)(5.8,-22.0)(4.2,-20.1)
(4.4,-17.3)(10.3,-16.3)(26.5,15.0)(22.6,17.3)(23.3,17.3)(30.8,8.8)(31.5,7.4)
(27.0,9.5)(28.5,4.0)(29.5,-1.5)(27.5,-7.0)(30.0,1.5)(32.5,3.0)(28.0,-3.5)(39.5,5.5)(41.0,8.0)(38.5,-2.0)
(34.0,-1.0)(26.5,-10.0)(30.5,-8.5)(40.0,2.0)(46.0,7.5)(48.5,8.5)(28.5,14.0)
};
\addplot[ci] coordinates {(-40.5,-5.6)(-20,-3.19)(0,-0.65)(20,2.29)(40,5.33)(52.9,7.3)
 (52.9,5.5)(40,3.93)(20,1.49)(0,-1.05)(-20,-3.99)(-40.5,-7.2)} -- cycle;
\addplot[reg] coordinates {(-40.5,-6.4)(52.9,6.4)};
\addplot[low] coordinates {(-40.5,-3.8)(-30,-3.4)(-20,-3.0)(-10,-2.3)(0,-0.8)(10,0.8)(20,2.4)(28,4.4)(35,5.6)(40,6.4)(46,7.9)(52.9,9.6)};
\statbox{0.25}{1.9e-59}
\end{axis}
\end{tikzpicture}
\end{document}
